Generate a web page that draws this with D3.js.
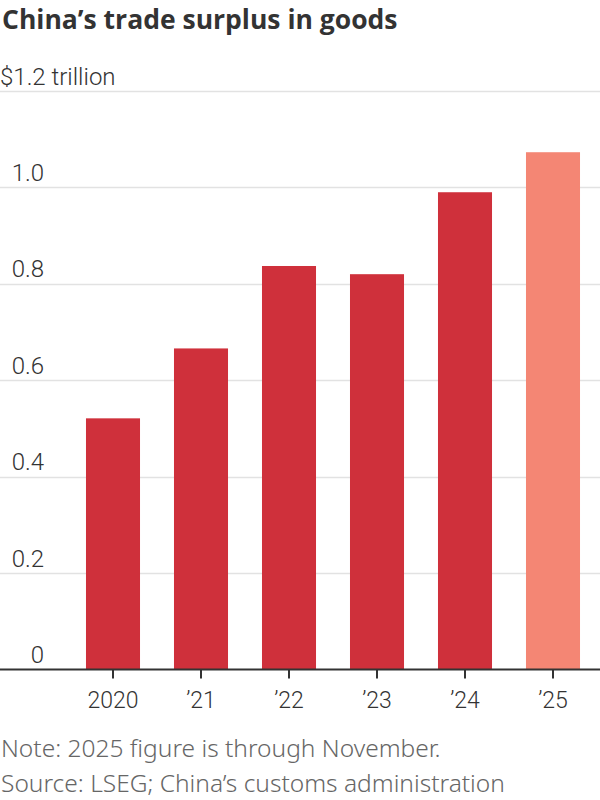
<!DOCTYPE html>
<html><head><meta charset="utf-8">
<script src="https://cdn.jsdelivr.net/npm/d3@7"></script>
<style>
body{margin:0;background:#fff;}
svg text{font-family:"Roboto",sans-serif;}
</style></head>
<body><svg id="c" width="600" height="800"></svg>
<script>
const years = ["2020","’21","’22","’23","’24","’25"];
const values = [0.521, 0.666, 0.837, 0.820, 0.990, 1.073];
const partial = [false,false,false,false,false,true];
const yTicks = [0,0.2,0.4,0.6,0.8,1.0,1.2];
const yTickLabels = ["0","0.2","0.4","0.6","0.8","1.0","$1.2 trillion"];

const svg = d3.select("#c");
const x = d3.scaleBand().domain(years).range([69,597]).paddingInner(0.386).paddingOuter(0.193);
const y = d3.scaleLinear().domain([0,1.2]).range([669.5,91]);

svg.append("text").attr("x",2).attr("y",29).text("China’s trade surplus in goods")
  .attr("font-size",26.5).attr("font-weight","bold").attr("fill","#333")
  .style("font-family","'Open Sans','Noto Sans',sans-serif");

const g = svg.append("g");
g.selectAll("line.grid").data(yTicks.slice(1)).join("line").attr("class","grid")
  .attr("x1",0).attr("x2",600).attr("y1",d=>Math.round(y(d))+0.5).attr("y2",d=>Math.round(y(d))+0.5)
  .attr("stroke","#e2e2e2").attr("stroke-width",1.5);
g.selectAll("text.yl").data(yTicks).join("text").attr("class","yl")
  .attr("x",(d,i)=>i===yTicks.length-1?0:44)
  .attr("text-anchor",(d,i)=>i===yTicks.length-1?"start":"end")
  .attr("y",d=>y(d)-6.5).text((d,i)=>yTickLabels[i])
  .attr("font-size",24).attr("font-weight",300).attr("fill","#333");

svg.selectAll("rect.bar").data(values).join("rect").attr("class","bar")
  .attr("x",(d,i)=>x(years[i])).attr("width",x.bandwidth())
  .attr("y",d=>y(d)).attr("height",d=>y(0)-y(d))
  .attr("fill",(d,i)=>partial[i]?"#f48674":"#cf303b");

const ax = svg.append("g").attr("transform","translate(0,669.5)")
  .call(d3.axisBottom(x).tickSize(9).tickPadding(0));
ax.select(".domain").remove();
ax.selectAll(".tick line").attr("stroke","#333").attr("stroke-width",2);
ax.selectAll(".tick text").attr("font-size",23).attr("font-weight",300).attr("fill","#333")
  .attr("dy",null).attr("y",38.5)
  .style("font-family","Roboto,sans-serif");
svg.append("line").attr("x1",0).attr("x2",600).attr("y1",669.5).attr("y2",669.5)
  .attr("stroke","#333").attr("stroke-width",2);

svg.append("text").attr("x",1).attr("y",757).text("Note: 2025 figure is through November.")
  .attr("font-size",24.5).attr("fill","#666").style("font-family","'Noto Sans','Open Sans',sans-serif").attr("font-weight",300);
svg.append("text").attr("x",1).attr("y",792).text("Source: LSEG; China’s customs administration")
  .attr("font-size",24.5).attr("fill","#666").style("font-family","'Noto Sans','Open Sans',sans-serif").attr("font-weight",300);
</script></body></html>
